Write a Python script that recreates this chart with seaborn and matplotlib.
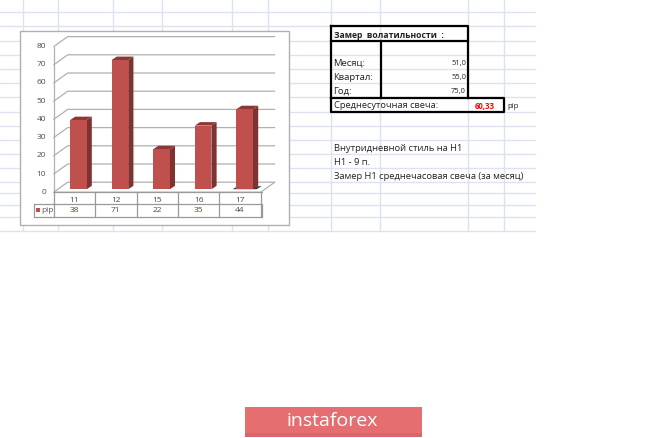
import numpy as np
import pandas as pd
import matplotlib
matplotlib.use('Agg')
import matplotlib.pyplot as plt
from matplotlib.patches import Rectangle, Polygon
import seaborn as sns

W, H = 665, 438

days = ['11', '12', '15', '16', '17']
pips = [38, 71, 22, 35, 44]
y_ticks = [0, 10, 20, 30, 40, 50, 60, 70, 80]

sheet_cols = [23, 58, 113, 162, 232, 268, 331, 380, 468, 504]
sheet_rows = [12, 26, 41, 55, 69, 83, 97, 112, 126, 140, 154, 168, 182, 193, 205, 217, 231]

stat_names = ['Месяц:', 'Квартал:', 'Год:']
stat_values = ['51,0', '55,0', '75,0']
notes = ['Внутридневной стиль на Н1', 'Н1 - 9 п.', 'Замер Н1 среднечасовая свеча (за месяц)']

sns.set_theme(style='white')
plt.rcParams['font.family'] = ['Open Sans', 'DejaVu Sans']

fig = plt.figure(figsize=(W / 100, H / 100), dpi=100)

# background in pixel coords, same numbers as the screenshot
bg = fig.add_axes([0, 0, 1, 1])
bg.set_xlim(0, W)
bg.set_ylim(H, 0)
bg.axis('off')

# plane of the bars
ax = fig.add_axes([57.5 / W, 1 - 189.3 / H, 208 / W, 145.6 / H], zorder=3)
df = pd.DataFrame({'day': days, 'pip': pips})
sns.barplot(data=df, x='day', y='pip', color='#c0504d', saturation=1, width=0.4,
            linewidth=0, edgecolor='none', ax=ax, zorder=3)
ax.set_xlim(-0.5, 4.5)
ax.set_ylim(0, 80)
ax.patch.set_alpha(0)
ax.axis('off')


def to_px(x, y):
    return bg.transData.inverted().transform(ax.transData.transform((x, y)))


# excel grid
for x in sheet_cols:
    bg.plot([x, x], [0, 231], color='#dce2f0', lw=1, zorder=1)
for y in sheet_rows:
    bg.plot([0, 535], [y, y], color='#dce2f0', lw=1, zorder=1)

# chart frame
bg.add_patch(Rectangle((20, 30.7), 269, 194.5, fc='white', ec='#b0b0b0', lw=1, zorder=2))

# walls
x0, x1 = 53.7, 260.7
ddx, ddy = 14, -10
wall = '#b0b0b0'
for v in y_ticks:
    yf = to_px(0, v)[1] + 2.9
    bg.plot([x0, x0 + ddx, x1 + ddx], [yf, yf + ddy, yf + ddy], color=wall, lw=0.9, zorder=2.2)
    bg.text(46, yf, str(v), ha='right', va='center', fontsize=6, color='#5a4a40', zorder=4)
yb = to_px(0, 0)[1] + 2.9
yt = to_px(0, 80)[1] + 2.9
bg.plot([x0, x0], [yb, yt], color=wall, lw=0.9, zorder=2.2)
bg.plot([x0, x1, x1 + ddx], [yb, yb, yb + ddy], color=wall, lw=0.9, zorder=2.2)

# bar depth, from the bars seaborn drew
dx, dy = 5.2, 3.5
for bar in ax.patches:
    l, r = bar.get_x(), bar.get_x() + bar.get_width()
    h = bar.get_height()
    (xl, yb_), (xr, yt_) = to_px(l, 0), to_px(r, h)
    xl_top = to_px(l, h)[0]
    bg.add_patch(Polygon([(xr, yb_), (xr + dx, yb_ - dy), (xr + dx, yt_ - dy), (xr, yt_)],
                         fc='#7f3331', ec='none', zorder=2.6))
    bg.add_patch(Polygon([(xl_top, yt_), (xl_top + dx, yt_ - dy), (xr + dx, yt_ - dy), (xr, yt_)],
                         fc='#8e3836', ec='none', zorder=2.6))
# little shadow under the last bar
xs = to_px(4, 0)[0]
bg.add_patch(Polygon([(xs - 12, yb - 3), (xs - 7, yb - 6), (xs + 17, yb - 6), (xs + 12, yb - 3)],
                     fc='#3a3a30', ec='none', zorder=2.4))

# data table under the chart
edges = np.linspace(x0, x1, len(days) + 1)
t_col = '#999999'
bg.plot([x0, x1 + 1], [192.3, 192.3], color=t_col, lw=0.9, zorder=3)
bg.plot([33.7, x1 + 1], [204, 204], color=t_col, lw=0.9, zorder=3)
bg.plot([33.7, x1 + 1], [216.7, 216.7], color=t_col, lw=0.9, zorder=3)
bg.plot([33.7, 33.7], [204, 216.7], color=t_col, lw=0.9, zorder=3)
for e in edges:
    bg.plot([e, e], [192.3, 216.7], color=t_col, lw=0.9, zorder=3)
bg.plot([x1 + 1, x1 + 1], [204, 216.7], color=t_col, lw=0.9, zorder=3)
for i in range(len(days)):
    xc = (edges[i] + edges[i + 1]) / 2
    bg.text(xc, 200, days[i], ha='center', va='center', fontsize=6, color='#4a4a3a', zorder=4)
    bg.text(xc, 210, str(pips[i]), ha='center', va='center', fontsize=6, color='#5a4a30', zorder=4)
bg.add_patch(Rectangle((36, 208), 4, 4, fc='#c0504d', ec='none', zorder=4))
bg.text(41, 210, 'pip', ha='left', va='center', fontsize=6, color='#705060', zorder=4)

# volatility box
k = dict(color='black', lw=1.6, zorder=4, solid_capstyle='projecting')
bg.plot([331, 468, 468, 331, 331], [26, 26, 41, 41, 26], **k)
bg.plot([331, 331], [41, 97.5], **k)
bg.plot([380.5, 380.5], [41, 97.5], **k)
bg.plot([468, 468], [41, 97.5], **k)
bg.plot([331, 504, 504, 331, 331], [97.5, 97.5, 112, 112, 97.5], **k)

txt = dict(va='center', color='#222222', zorder=5)
bg.text(333.5, 35, 'Замер  волатильности  :', fontsize=6.2, fontweight='bold', ha='left', **txt)
for i in range(3):
    y = 63 + i * 14
    bg.text(333.5, y, stat_names[i], fontsize=6.8, ha='left', **txt)
    bg.text(466, y + 1, stat_values[i], fontsize=5.4, ha='right', **txt)
bg.text(333.5, 105.5, 'Среднесуточная свеча:', fontsize=6.7, ha='left', **txt)
bg.text(495, 106.5, '60,33', fontsize=5.6, fontweight='bold', ha='right', va='center', color='#ff0000', zorder=5)
bg.text(507, 106.5, 'pip', fontsize=5.6, ha='left', **txt)

for i, line in enumerate(notes):
    bg.text(333.5, 148.5 + i * 14, line, fontsize=6.75, ha='left', **txt)

# banner
bg.add_patch(Rectangle((244.5, 407), 177.5, 30, fc='#e56f70', ec='none', zorder=2))
bg.add_patch(Rectangle((244.5, 433), 177.5, 4, fc='#d9666a', ec='none', zorder=2))
bg.text(332.5, 421, 'instaforex', fontsize=14, color='white', ha='center', va='center', zorder=3)

fig.savefig('out.png', dpi=100)
